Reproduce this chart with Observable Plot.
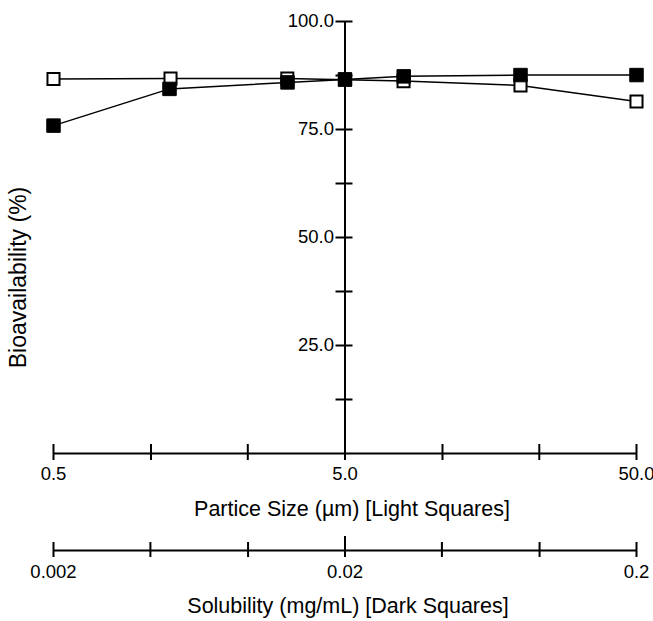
<!DOCTYPE html>
<html><head><meta charset="utf-8">
<script src="https://cdn.jsdelivr.net/npm/d3@7"></script>
<script src="https://cdn.jsdelivr.net/npm/@observablehq/plot@0.6"></script>
<style>
html,body{margin:0;padding:0;background:#fff;}
#chart svg{display:block;overflow:visible;}
</style></head><body><div id="chart"></div>
<script>
// Light squares: bioavailability vs particle size (µm)
const particleSize = [0.5, 1.26, 3.17, 5, 7.94, 20, 50];
const bioLight = [86.7, 86.8, 86.8, 86.5, 86.2, 85.2, 81.5];
// Dark squares: bioavailability vs solubility (mg/mL)
const solubility = [0.002, 0.005, 0.0127, 0.02, 0.0318, 0.08, 0.2];
const bioDark = [75.9, 84.4, 85.9, 86.6, 87.3, 87.6, 87.6];

// axes
const sizeDomain = [0.5, 50];
const solDomain = [0.002, 0.2];
const sizeTicks = [0.5, 1.08, 2.32, 5, 10.8, 23.2, 50];
const sizeTickLabels = ["0.5", "", "", "5.0", "", "", "50.0"];
const solTicks = [0.002, 0.0043, 0.0093, 0.02, 0.043, 0.093, 0.2];
const solTickLabels = ["0.002", "", "", "0.02", "", "", "0.2"];
const solMajorTick = [0.02];
const bioTicks = [12.5, 25, 37.5, 50, 62.5, 75, 87.5, 100];
const bioTickLabels = ["", "25.0", "", "50.0", "", "75.0", "", "100.0"];
const yAxisAt = 5;

const xTitle = "Partice Size (µm) [Light Squares]";
const x2Title = "Solubility (mg/mL) [Dark Squares]";
const yTitle = "Bioavailability (%)";

const light = particleSize.map((x, i) => ({x, y: bioLight[i]}));
const solToSize = sizeDomain[0] / solDomain[0];
const dark = solubility.map((s, i) => ({s, y: bioDark[i]}));

const font = "'Liberation Sans', Arial, Helvetica, sans-serif";
const tickFS = 18.5, titleFS = 21.5, yTitleFS = 23;

const main = Plot.plot({
  width: 653, height: 525,
  marginLeft: 53, marginRight: 17, marginTop: 21, marginBottom: 72,
  style: {fontFamily: font, background: "#fff", color: "#000"},
  x: {type: "log", domain: sizeDomain, axis: null},
  y: {domain: [0, 100], axis: null},
  marks: [
    Plot.ruleY([0], {x1: sizeDomain[0], x2: sizeDomain[1], stroke: "#000", strokeWidth: 2}),
    Plot.ruleX([yAxisAt], {y1: 0, y2: 100, stroke: "#000", strokeWidth: 2}),
    Plot.ruleX(sizeTicks, {x: d => d, y1: 0, y2: 0, insetTop: -9, insetBottom: -7, stroke: "#000", strokeWidth: 2}),
    Plot.ruleY(bioTicks, {y: d => d, x1: yAxisAt, x2: yAxisAt, insetLeft: -9, insetRight: -8, stroke: "#000", strokeWidth: 2}),
    Plot.text(bioTicks, {x: yAxisAt, y: d => d, text: (d, i) => bioTickLabels[i], textAnchor: "end", dx: -11, fontSize: tickFS, fill: "#000"}),
    Plot.text(sizeTicks, {x: d => d, y: 0, text: (d, i) => sizeTickLabels[i], dy: 21, fontSize: tickFS, fill: "#000"}),
    Plot.text([xTitle], {frameAnchor: "bottom", lineAnchor: "middle", textAnchor: "middle", dx: 7, dy: 56, fontSize: titleFS, fill: "#000"}),
    Plot.text([yTitle], {frameAnchor: "left", lineAnchor: "middle", textAnchor: "middle", rotate: -90, dx: -35, dy: 40, fontSize: yTitleFS, fill: "#000"}),
    Plot.line(light, {x: "x", y: "y", stroke: "#000", strokeWidth: 1.5}),
    Plot.dot(light, {x: "x", y: "y", symbol: "square", r: 6.8, fill: "#fff", stroke: "#000", strokeWidth: 2}),
    Plot.line(dark, {x: d => d.s * solToSize, y: "y", stroke: "#000", strokeWidth: 1.5}),
    Plot.dot(dark, {x: d => d.s * solToSize, y: "y", symbol: "square", r: 7.6, fill: "#000", stroke: "#000", strokeWidth: 1})
  ]
});

const second = Plot.plot({
  width: 653, height: 96,
  marginLeft: 53, marginRight: 17, marginTop: 0, marginBottom: 0,
  style: {fontFamily: font, background: "#fff", color: "#000"},
  x: {type: "log", domain: solDomain, axis: null},
  y: {domain: [0, 1], range: [25, 95], axis: null},
  marks: [
    Plot.ruleY([0], {x1: solDomain[0], x2: solDomain[1], stroke: "#000", strokeWidth: 2}),
    Plot.ruleX(solTicks, {x: d => d, y1: 0, y2: 0, insetTop: -8, insetBottom: -7, stroke: "#000", strokeWidth: 2}),
    Plot.ruleX(solMajorTick, {x: d => d, y1: 0, y2: 0, insetTop: -14, insetBottom: -7, stroke: "#000", strokeWidth: 2}),
    Plot.text(solTicks, {x: d => d, y: 0, text: (d, i) => solTickLabels[i], dy: 22, fontSize: tickFS, fill: "#000"}),
    Plot.text([x2Title], {frameAnchor: "top", lineAnchor: "middle", textAnchor: "middle", dx: 3, dy: 81, fontSize: titleFS, fill: "#000"})
  ]
});

const c = document.getElementById("chart");
c.appendChild(main);
c.appendChild(second);
</script></body></html>
